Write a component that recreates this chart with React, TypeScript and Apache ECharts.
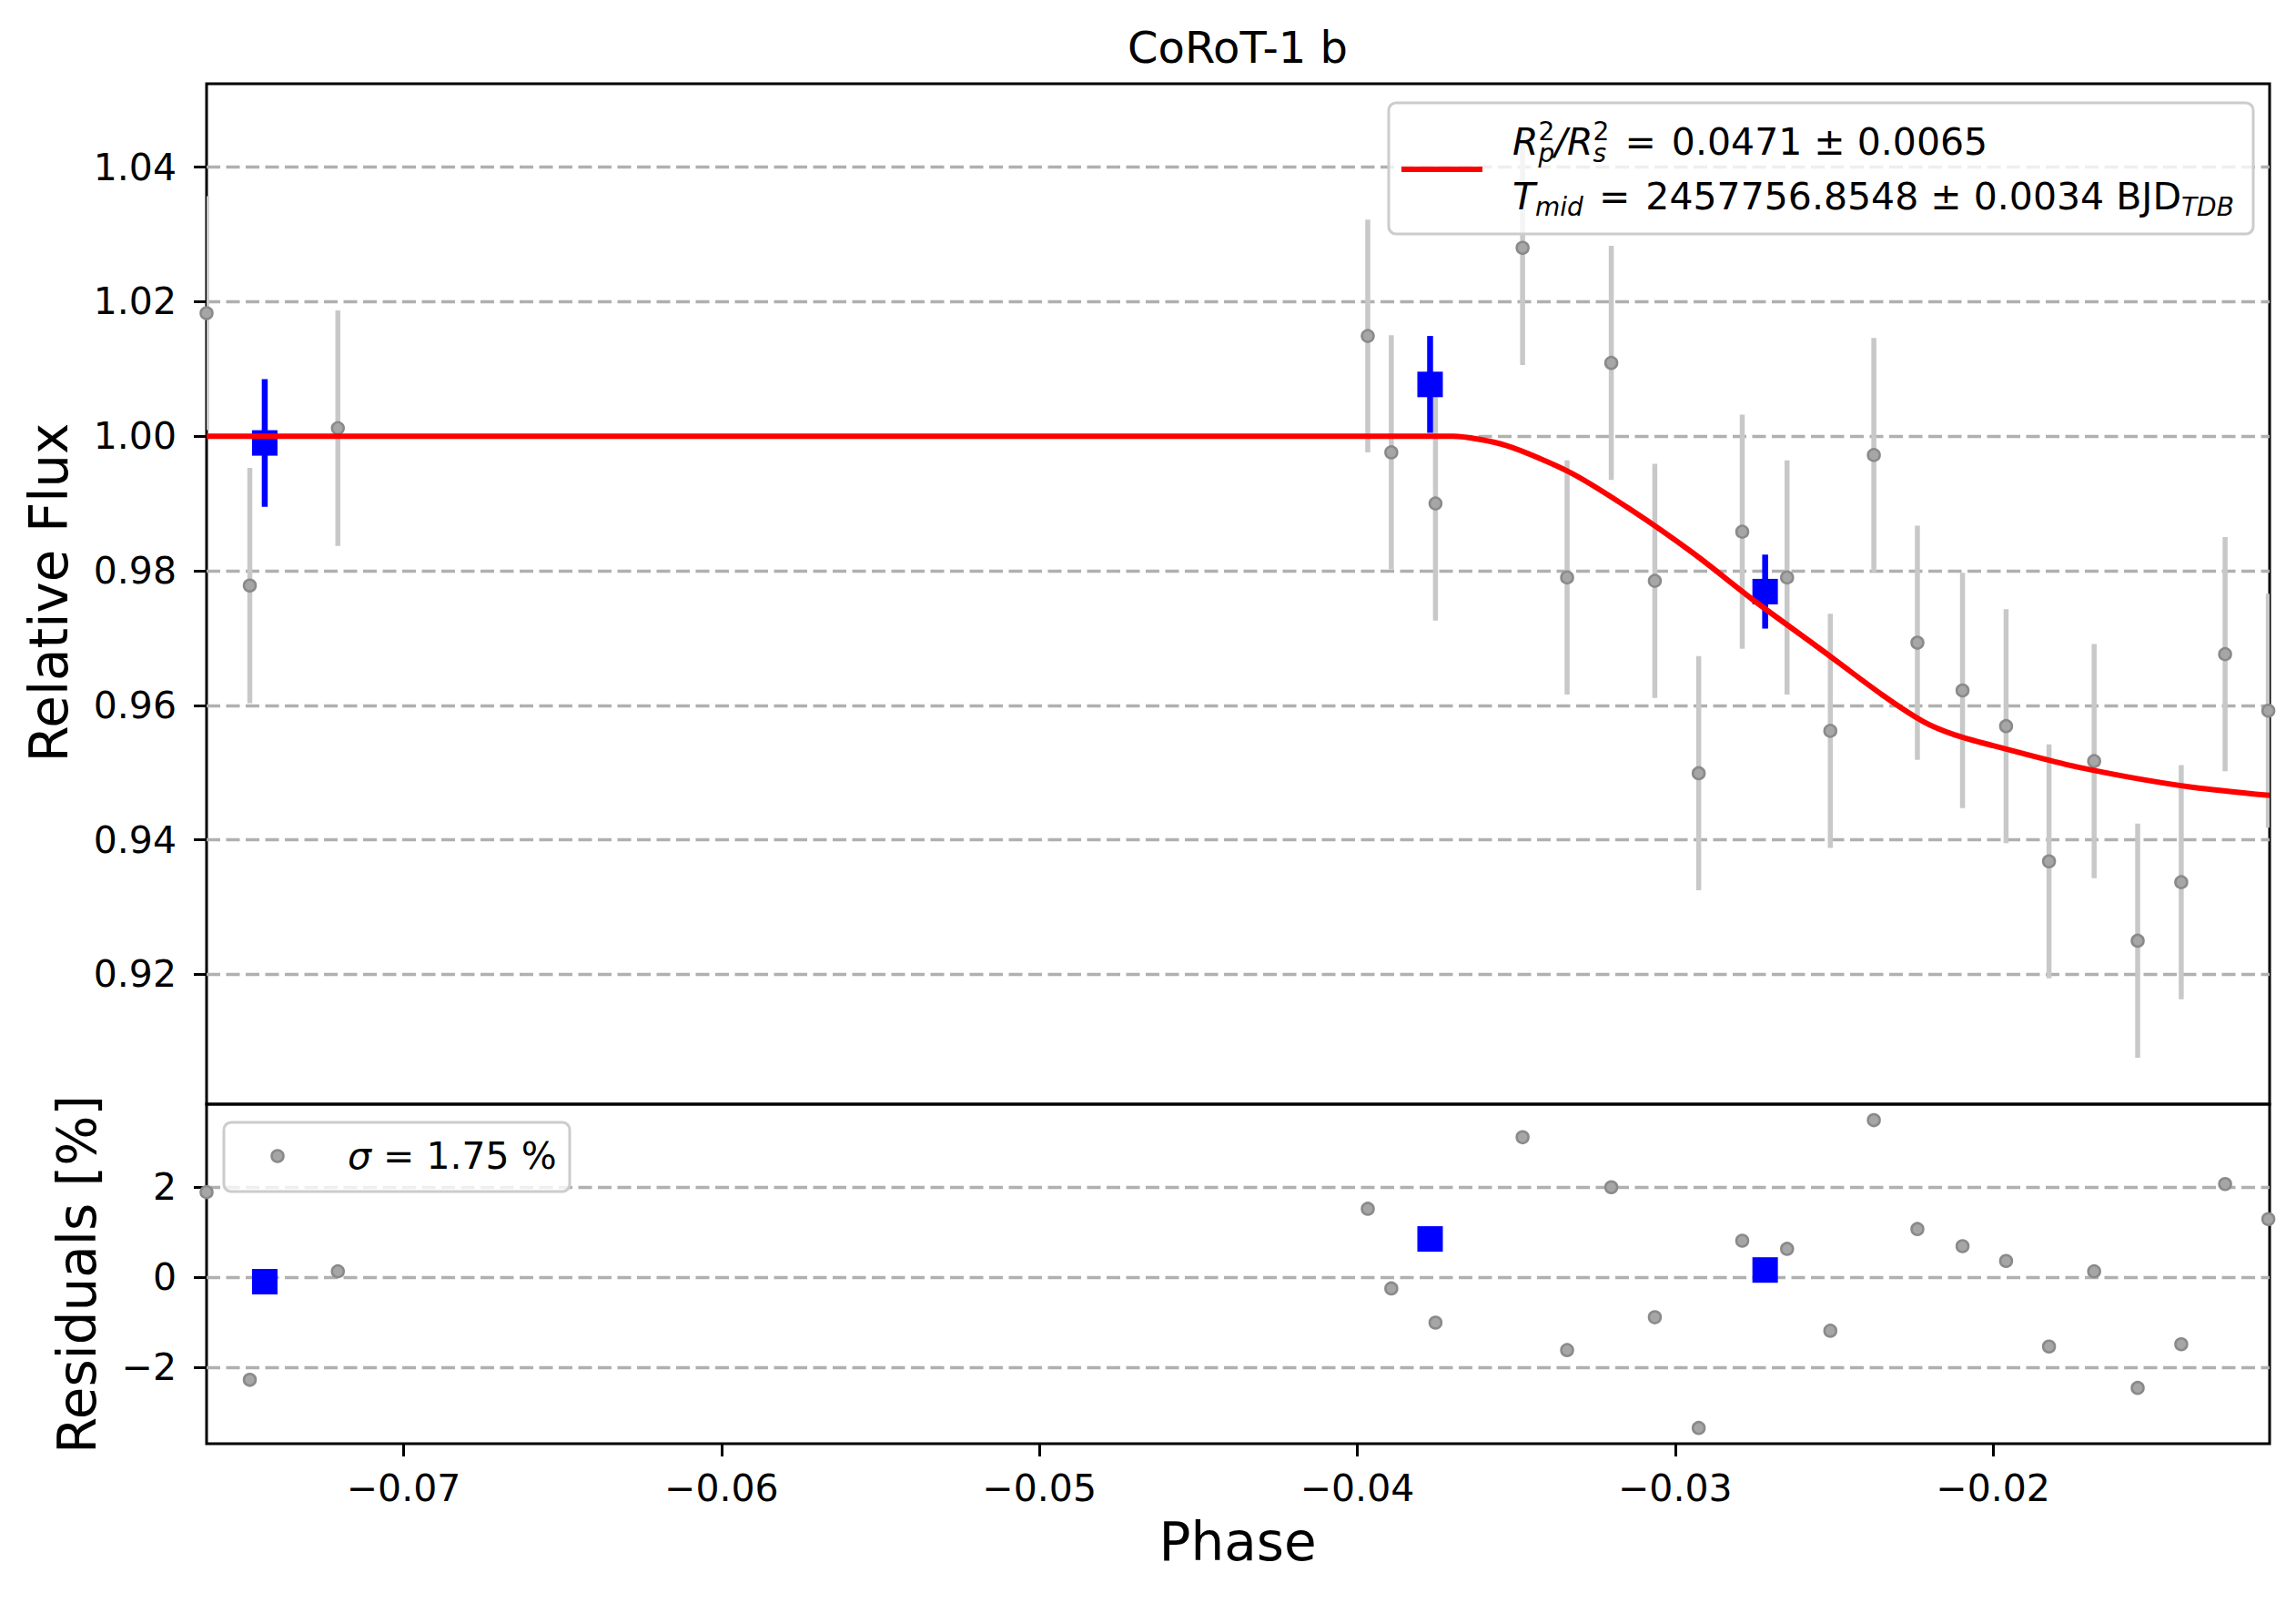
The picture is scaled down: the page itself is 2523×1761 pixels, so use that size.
import React, { useEffect, useRef } from 'react';
import * as echarts from 'echarts';

// unbinned points
const phase = [-0.0762, -0.07484, -0.07207, -0.03967, -0.03893, -0.03754, -0.0348, -0.0334, -0.03201, -0.03064, -0.02926, -0.02789, -0.02648, -0.02512, -0.02375, -0.02238, -0.02096, -0.01959, -0.01824, -0.01682, -0.01545, -0.01408, -0.0127, -0.01134];
const flux = [1.0183, 0.9778, 1.0012, 1.0149, 0.9976, 0.99, 1.028, 0.979, 1.0109, 0.9785, 0.9499, 0.9858, 0.979, 0.9562, 0.9972, 0.9693, 0.9622, 0.9569, 0.9368, 0.9517, 0.925, 0.9337, 0.9676, 0.9592];
const fluxErr = [0.0174, 0.0175, 0.0175, 0.0173, 0.0174, 0.0174, 0.0174, 0.0174, 0.0174, 0.0174, 0.0174, 0.0174, 0.0174, 0.0174, 0.0174, 0.0174, 0.0175, 0.0174, 0.0174, 0.0174, 0.0174, 0.0174, 0.0174, 0.0174];
const resid = [1.89, -2.28, 0.13, 1.52, -0.25, -1.01, 3.11, -1.62, 2.0, -0.89, -3.35, 0.81, 0.63, -1.19, 3.49, 1.07, 0.69, 0.36, -1.54, 0.13, -2.46, -1.49, 2.07, 1.29];

// binned points
const binPhase = [-0.07437, -0.03771, -0.02717];
const binFlux = [0.999, 1.0077, 0.9769];
const binErr = [0.0095, 0.0072, 0.0055];
const binResid = [-0.1, 0.85, 0.16];

// transit model
const modelPhase = [-0.0762, -0.037, -0.0353, -0.0333, -0.0314, -0.0294, -0.0275, -0.0255, -0.0235, -0.0222, -0.0212, -0.02, -0.0177, -0.0157, -0.0137, -0.0113];
const modelFlux = [1.0, 1.0, 0.9986, 0.9946, 0.9891, 0.9825, 0.9755, 0.9686, 0.9616, 0.9576, 0.9556, 0.954, 0.9512, 0.9493, 0.9478, 0.9466];

const fluxTicks = [0.92, 0.94, 0.96, 0.98, 1.0, 1.02, 1.04];
const residTicks = [-2, 0, 2];
const phaseTicks = [-0.07, -0.06, -0.05, -0.04, -0.03, -0.02];

const FONT = 'DejaVu Sans';
const minus = (s: string) => s.replace('-', '\u2212');

const measure = document.createElement('canvas').getContext('2d')!;
const tw = (t: string, size: number, italic?: boolean) => {
  measure.font = `${italic ? 'italic ' : ''}${size}px "${FONT}"`;
  return measure.measureText(t).width;
};

const txt = (x: number, y: number, text: string, size: number, opts: any = {}) => ({
  type: 'text',
  x,
  y,
  rotation: opts.rotation || 0,
  z: 100,
  style: {
    text,
    fontSize: size,
    fontFamily: FONT,
    fontStyle: opts.italic ? 'italic' : 'normal',
    fill: '#000',
    align: opts.align || 'left',
    textAlign: opts.align || 'left',
    verticalAlign: 'middle',
    textVerticalAlign: 'middle',
  },
});

// runs of math-like text: hold = stacked with the next run
const mathLine = (x0: number, yc: number, runs: any[]) => {
  const out: any[] = [];
  let x = x0;
  let held = 0;
  runs.forEach((r) => {
    const size = r.small ? 28 : 41;
    out.push(txt(x + (r.dx || 0), yc + (r.dy || 0), r.t, size, { italic: r.it }));
    const w = tw(r.t, size, r.it) + (r.dx || 0);
    if (r.hold) {
      held = w;
    } else {
      x += Math.max(w, held);
      held = 0;
    }
  });
  return out;
};

const errorBars = (xs: number[], ys: number[], es: number[], color: string, width: number, z: number) => ({
  type: 'custom',
  xAxisIndex: 0,
  yAxisIndex: 0,
  z,
  clip: true,
  data: xs.map((x, i) => [x, ys[i] - es[i], ys[i] + es[i]]),
  renderItem: (params: any, api: any) => {
    const lo = api.coord([api.value(0), api.value(1)]);
    const hi = api.coord([api.value(0), api.value(2)]);
    return {
      type: 'line',
      shape: { x1: lo[0], y1: lo[1], x2: hi[0], y2: hi[1] },
      style: { stroke: color, lineWidth: width },
    };
  },
});

const grayDot = {
  color: '#a6a6a6',
  borderColor: '#8a8a8a',
  borderWidth: 2.5,
  opacity: 1,
};

const App: React.FC = () => {
  const chartRef = useRef<HTMLDivElement>(null);

  useEffect(() => {
    const chart = echarts.init(chartRef.current!, null, { renderer: 'svg' });

    const tickStyle = { show: true, inside: false, length: 14, lineStyle: { color: '#000', width: 3 } };
    const gridDash = { show: true, lineStyle: { color: '#b0b0b0', width: 3.3, type: [15, 6.5] } };
    const labelStyle = { color: '#000', fontSize: 41, fontFamily: FONT };
    const noLine = { show: false, onZero: false };

    const legendTop = [
      {
        type: 'rect',
        shape: { x: 1526, y: 113, width: 950, height: 144, r: 8 },
        style: { fill: 'rgba(255,255,255,0.8)', stroke: '#cccccc', lineWidth: 3 },
        z: 90,
      },
      { type: 'line', shape: { x1: 1540, y1: 186, x2: 1629, y2: 186 }, style: { stroke: '#ff0000', lineWidth: 6 }, z: 95 },
      ...mathLine(1662, 156, [
        { t: 'R', it: true },
        { t: '2', small: true, dy: -12, hold: true },
        { t: 'p', small: true, it: true, dy: 12 },
        { t: '/R', it: true },
        { t: '2', small: true, dy: -12, hold: true },
        { t: 's', small: true, it: true, dy: 12 },
        { t: ' = ', dx: 4 },
        { t: '0.0471 \u00b1 0.0065', dx: 4 },
      ]),
      ...mathLine(1662, 216, [
        { t: 'T', it: true },
        { t: 'mid', small: true, it: true, dy: 11 },
        { t: ' = ', dx: 4 },
        { t: '2457756.8548 \u00b1 0.0034 BJD', dx: 4 },
        { t: 'TDB', small: true, it: true, dy: 11 },
      ]),
    ];

    const legendBottom = [
      {
        type: 'rect',
        shape: { x: 246, y: 1233, width: 380, height: 76, r: 8 },
        style: { fill: 'rgba(255,255,255,0.8)', stroke: '#cccccc', lineWidth: 3 },
        z: 90,
      },
      {
        type: 'circle',
        shape: { cx: 305, cy: 1270, r: 6.5 },
        style: { fill: grayDot.color, stroke: grayDot.borderColor, lineWidth: grayDot.borderWidth },
        z: 95,
      },
      ...mathLine(382, 1270, [{ t: '\u03c3', it: true }, { t: ' = 1.75 %' }]),
    ];

    const options = {
      animation: false,
      grid: [
        { left: 227, right: 29, top: 92, height: 1121, show: true, borderColor: '#000', borderWidth: 3, backgroundColor: 'transparent' },
        { left: 227, right: 29, top: 1213, height: 373, show: true, borderColor: '#000', borderWidth: 3, backgroundColor: 'transparent' },
      ],
      xAxis: [
        {
          type: 'value', gridIndex: 0, min: -0.0762, max: -0.0113,
          axisLine: noLine, axisTick: { show: false }, axisLabel: { show: false }, splitLine: { show: false },
        },
        {
          type: 'value', gridIndex: 1, min: -0.0762, max: -0.0113,
          axisLine: noLine,
          axisTick: { ...tickStyle, customValues: phaseTicks },
          axisLabel: { ...labelStyle, margin: 28, customValues: phaseTicks, formatter: (v: number) => minus(v.toFixed(2)) },
          splitLine: { show: false },
        },
      ],
      yAxis: [
        {
          type: 'value', gridIndex: 0, min: 0.9007, max: 1.0524,
          axisLine: noLine,
          axisTick: { ...tickStyle, customValues: fluxTicks },
          axisLabel: { ...labelStyle, margin: 33, customValues: fluxTicks, formatter: (v: number) => v.toFixed(2) },
          splitLine: gridDash,
        },
        {
          type: 'value', gridIndex: 1, min: -3.7, max: 3.845,
          axisLine: noLine,
          axisTick: { ...tickStyle, customValues: residTicks },
          axisLabel: { ...labelStyle, margin: 33, customValues: residTicks, formatter: (v: number) => minus(v.toFixed(0)) },
          splitLine: gridDash,
        },
      ],
      graphic: [
        txt(1360, 52, 'CoRoT-1 b', 48, { align: 'center' }),
        txt(1360, 1694, 'Phase', 58, { align: 'center' }),
        txt(54, 651, 'Relative Flux', 58, { align: 'center', rotation: Math.PI / 2 }),
        txt(85, 1400, 'Residuals [%]', 58, { align: 'center', rotation: Math.PI / 2 }),
        ...legendTop,
        ...legendBottom,
      ],
      series: [
        errorBars(phase, flux, fluxErr, '#c8c8c8', 5.5, 1),
        {
          type: 'scatter', xAxisIndex: 0, yAxisIndex: 0, z: 2,
          symbol: 'circle', symbolSize: 13,
          itemStyle: grayDot,
          data: phase.map((x, i) => [x, flux[i]]),
        },
        errorBars(binPhase, binFlux, binErr, '#0000ff', 6.5, 3),
        {
          type: 'scatter', xAxisIndex: 0, yAxisIndex: 0, z: 4,
          symbol: 'rect', symbolSize: 28,
          itemStyle: { color: '#0000ff', opacity: 1 },
          data: binPhase.map((x, i) => [x, binFlux[i]]),
        },
        {
          type: 'line', xAxisIndex: 0, yAxisIndex: 0, z: 5,
          showSymbol: false, smooth: 0.25,
          lineStyle: { color: '#ff0000', width: 6 },
          data: modelPhase.map((x, i) => [x, modelFlux[i]]),
        },
        {
          type: 'scatter', xAxisIndex: 1, yAxisIndex: 1, z: 2,
          symbol: 'circle', symbolSize: 13,
          itemStyle: grayDot,
          data: phase.map((x, i) => [x, resid[i]]),
        },
        {
          type: 'scatter', xAxisIndex: 1, yAxisIndex: 1, z: 4,
          symbol: 'rect', symbolSize: 28,
          itemStyle: { color: '#0000ff', opacity: 1 },
          data: binPhase.map((x, i) => [x, binResid[i]]),
        },
      ],
    };

    chart.setOption(options as any);

    return () => {
      chart.dispose();
    };
  }, []);

  return (
    <div
      ref={chartRef}
      style={{ position: 'absolute', left: 0, top: 0, width: '2523px', height: '1761px', background: '#fff' }}
    ></div>
  );
};

export default App;
